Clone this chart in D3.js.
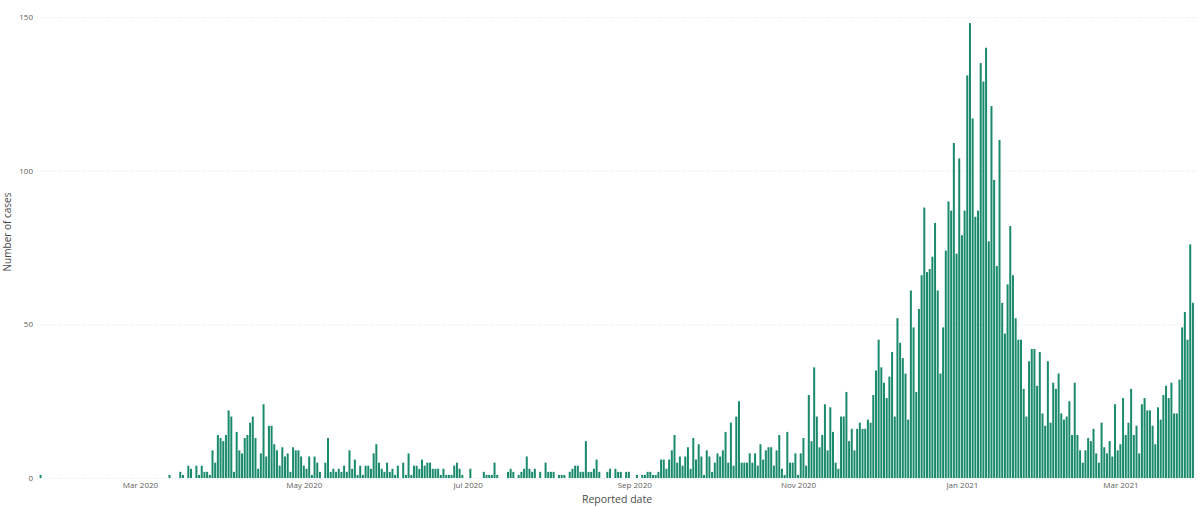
<!DOCTYPE html>
<html>
<head>
<meta charset="utf-8">
<script src="https://cdn.jsdelivr.net/npm/d3@7"></script>
<style>
  html, body { margin: 0; padding: 0; background: #fff; }
  svg { display: block; font-family: "Segoe UI", "Open Sans", "Noto Sans", sans-serif; }
</style>
</head>
<body>
<svg id="chart" width="1200" height="507"></svg>
<script>
// ---- data ----
const startDate = "2020-01-24"; // first reported day
const cases = [
  1,0,0,0,0,0,0,0,0,0, 0,0,0,0,0,0,0,0,0,0, 0,0,0,0,0,0,0,0,0,0, 0,0,0,0,0,0,0,0,0,0,
  0,0,0,0,0,0,0,0,1,0, 0,0,2,1,0,4,3,0,4,1, 4,2,2,1,9,5,14,13,12,14, 22,20,2,15,9,8,13,14,18,20,
  13,3,8,24,7,17,17,11,9,4, 10,7,8,2,10,9,9,7,4,3, 7,1,7,5,2,0,5,13,2,3, 2,3,2,4,2,9,3,6,1,4,
  1,4,4,3,8,11,5,3,2,5, 2,3,1,4,0,5,1,8,1,4, 4,3,6,4,5,5,3,3,3,1, 3,1,1,1,4,5,3,1,0,0,
  3,0,0,0,0,2,1,1,1,5, 1,0,0,0,2,3,2,0,1,2, 3,7,3,2,3,0,2,0,5,2, 2,2,0,1,1,1,0,2,3,4,
  4,2,2,12,2,2,3,6,2,0, 0,2,3,0,3,2,2,0,2,2, 0,0,1,0,1,1,2,2,1,1, 2,6,6,3,6,9,14,5,7,4,
  7,10,3,13,6,11,7,1,9,7, 2,5,8,7,9,15,5,18,4,20, 25,5,5,5,8,5,8,4,11,6, 9,10,10,4,9,14,3,1,15,5,
  5,8,1,8,13,4,27,12,36,20, 10,14,24,9,23,15,5,3,20,20, 28,12,16,9,16,18,16,16,19,18, 27,35,45,36,31,26,33,41,20,52,
  44,39,34,19,61,49,28,55,66,88, 67,68,72,83,61,34,49,74,90,87, 109,73,104,79,87,131,148,117,85,87, 135,129,140,77,121,97,69,110,57,47,
  63,82,66,52,45,45,29,20,38,42, 42,30,41,21,17,38,18,31,29,34, 21,19,20,25,14,31,14,9,5,9, 13,12,16,8,5,18,10,8,12,7,
  24,9,11,26,14,18,29,14,17,8, 24,26,22,22,17,11,23,19,27,30, 26,31,21,21,32,49,54,45,76,57
];
const yTicks = [0, 50, 100, 150];
const xTickDates = ["2020-03-01", "2020-05-01", "2020-07-01", "2020-09-01", "2020-11-01", "2021-01-01", "2021-03-01"];
const xTickLabels = ["Mar 2020", "May 2020", "Jul 2020", "Sep 2020", "Nov 2020", "Jan 2021", "Mar 2021"];
const xTitle = "Reported date";
const yTitle = "Number of cases";

// ---- build ----
const DAY = 86400000;
const t0 = new Date(startDate + "T00:00:00Z");
const rows = cases.map((v, i) => ({ date: new Date(t0.getTime() + i * DAY), value: v }));

const svg = d3.select("#chart");
const x = d3.scaleUtc()
  .domain([new Date(t0.getTime() - DAY), new Date(t0.getTime() + cases.length * DAY)])
  .range([37.9, 1195.6]);
const y = d3.scaleLinear().domain([0, 150]).range([478, 17]);

const textCol = "#605e5c";

// gridlines
svg.append("g")
  .selectAll("line")
  .data(yTicks)
  .join("line")
  .attr("x1", 37).attr("x2", 1196)
  .attr("y1", d => y(d) + 0.5).attr("y2", d => y(d) + 0.5)
  .attr("stroke", "#e3e3e3")
  .attr("stroke-width", 1)
  .attr("stroke-dasharray", "1,2");

// y axis labels
const yAxis = d3.axisLeft(y).tickValues(yTicks).tickSize(0).tickPadding(0).tickFormat(d3.format("d"));
svg.append("g")
  .attr("transform", "translate(33,0)")
  .call(yAxis)
  .call(g => g.select(".domain").remove())
  .call(g => g.selectAll("text").attr("fill", textCol).attr("font-size", "8px")
      .attr("font-family", "'Segoe UI', 'Open Sans', sans-serif"));

// bars
const bw = 2.0;
svg.append("g")
  .selectAll("rect")
  .data(rows.filter(r => r.value > 0))
  .join("rect")
  .attr("x", d => x(d.date) - bw / 2)
  .attr("width", bw)
  .attr("y", d => y(d.value))
  .attr("height", d => y(0) - y(d.value))
  .attr("fill", "#1a8a6c");

// x axis labels
const xAxis = d3.axisBottom(x)
  .tickValues(xTickDates.map(s => new Date(s + "T00:00:00Z")))
  .tickSize(0).tickPadding(0)
  .tickFormat((d, i) => xTickLabels[i]);
svg.append("g")
  .attr("transform", "translate(0,482)")
  .call(xAxis)
  .call(g => g.select(".domain").remove())
  .call(g => g.selectAll("text").attr("fill", textCol).attr("font-size", "8px")
      .attr("font-family", "'Segoe UI', 'Open Sans', sans-serif"));

// axis titles
svg.append("text")
  .attr("x", 617).attr("y", 503)
  .attr("text-anchor", "middle")
  .attr("fill", "#4a4a4a")
  .attr("font-size", "10.5px")
  .text(xTitle);

svg.append("text")
  .attr("transform", "translate(11,232) rotate(-90)")
  .attr("text-anchor", "middle")
  .attr("fill", "#4a4a4a")
  .attr("font-size", "10px")
  .text(yTitle);
</script>
</body>
</html>
